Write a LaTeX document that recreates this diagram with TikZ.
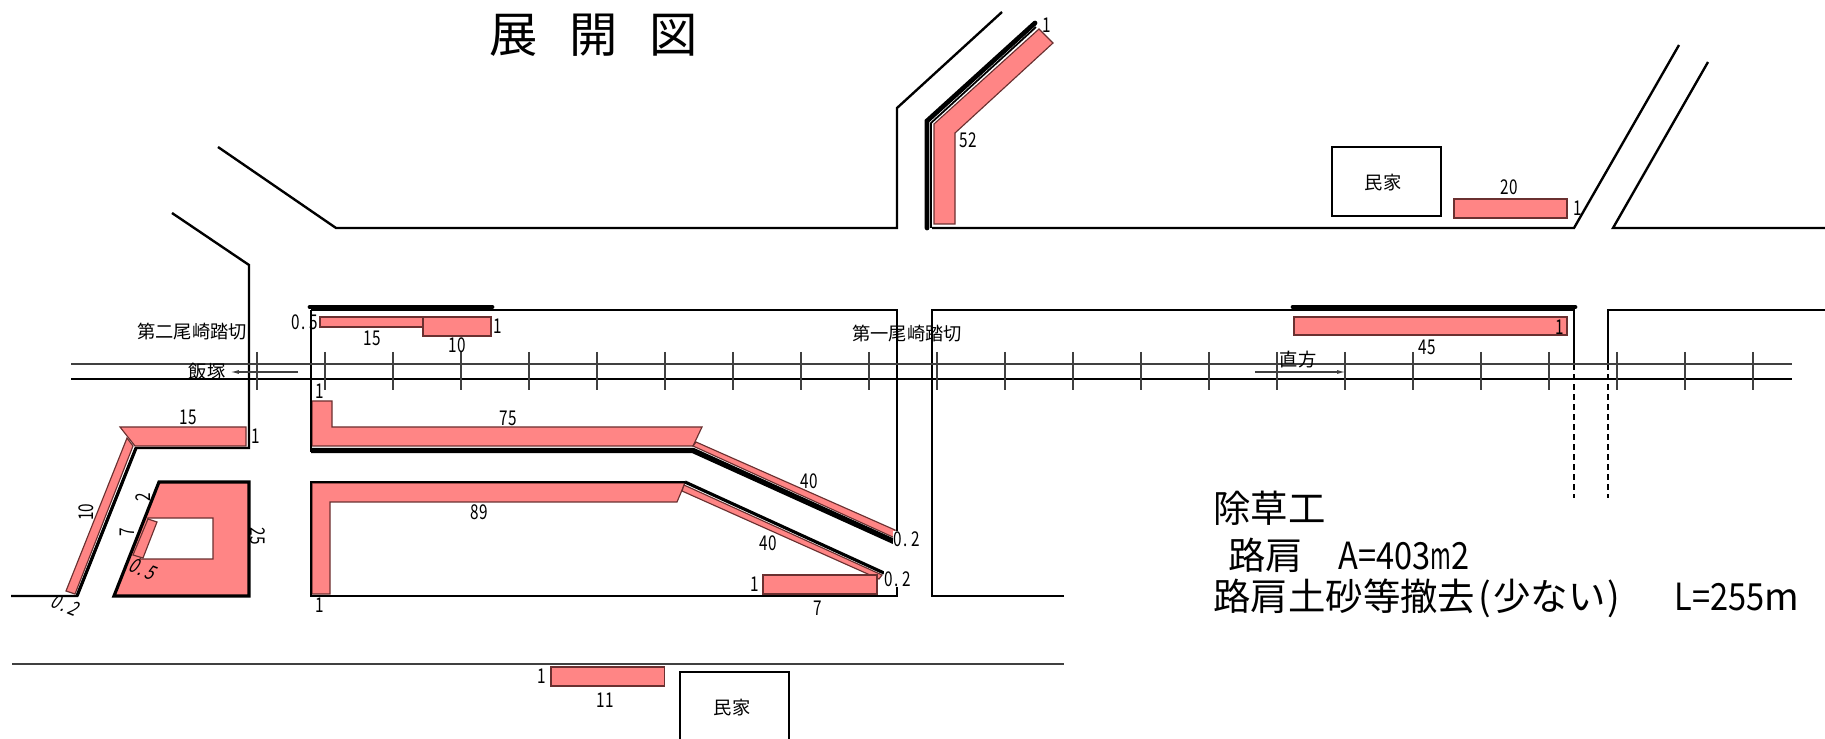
\documentclass[tikz,border=0pt]{standalone}
\usepackage{fontspec}
\usepackage{graphicx}
\usetikzlibrary{arrows.meta}
\setmainfont{Noto Sans CJK JP}
\newfontfamily\slfont[FakeSlant=0.3]{Noto Sans CJK JP}
\newcommand\nn[1]{\scalebox{.75}[1]{#1}}
\newcommand\dec[1]{\scalebox{.75}[1]{0\kern1pt.\kern3pt#1}}
\definecolor{pinkfill}{HTML}{FF8585}
\definecolor{pinkedge}{HTML}{6A3030}
\tikzset{
  rd/.style={line width=1.35pt,line join=miter},
  hv/.style={line width=2.7pt,line cap=round,line join=miter},
  thn/.style={line width=.75pt,black!75},
  dsh/.style={line width=1.2pt,dash pattern=on 3.4pt off 2.3pt},
  pk/.style={fill=pinkfill,draw=pinkedge,line width=.65pt},
  num/.style={inner sep=0pt,font=\fontsize{11.6}{12}\selectfont},
  jp/.style={inner sep=0pt,font=\fontsize{10.4}{12}\selectfont},
  big/.style={inner sep=0pt,anchor=west,font=\fontsize{21.3}{24}\selectfont},
  hal/.style={fill=white,inner sep=.4pt},
}
\begin{document}
\begin{tikzpicture}[x=0.02cm,y=-0.02cm]
\useasboundingbox (0,0) rectangle (1825,739);
% title
\node[inner sep=0pt,font=\fontsize{27.5}{30}\selectfont] (title) at (593.5,35) {展\hspace{18pt}開\hspace{18pt}図};
% roads
\draw[rd] (218,147) -- (336,228) -- (897,228) -- (897,108) -- (1002,12);
\draw[rd] (172,213) -- (249,265) -- (249,448) -- (136,448) -- (77,596) -- (11,596);
\draw[rd] (932,228) -- (1574,228) -- (1679,45);
\draw[rd] (1825,228) -- (1613,228) -- (1708,62);
% buildings
\draw[rd] (1332,147) rectangle (1441,216);
\node[jp] (house1) at (1383,183) {民家};
\draw[rd] (680,739) -- (680,672) -- (789,672) -- (789,739);
\node[jp] (house2) at (732,708) {民家};
\draw[thn] (12,664) -- (1064,664);
% pink areas
\fill[pk] (934,224) -- (934,124) -- (1039,29) -- (1053,43) -- (955,133) -- (955,224) -- cycle;
\fill[pk] (1454,199) rectangle (1567,218);
\fill[pk] (1294,317) rectangle (1567,335);
\fill[pk] (320,317) rectangle (423,327);
\fill[pk] (423,317) rectangle (491,336);
\fill[pk] (312,401) -- (332,401) -- (332,427) -- (702,427) -- (693,446) -- (312,446) -- cycle;
\fill[pk] (696,442) -- (895,530) -- (895,538) -- (693,446) -- cycle;
\fill[pk] (312,483) -- (685,483) -- (677,502) -- (330,502) -- (330,594) -- (312,594) -- cycle;
\fill[pk] (684,485) -- (882,575) -- (879,579) -- (682,491) -- cycle;
\fill[pk] (763,575) rectangle (877,594);
\fill[pk] (120,427) -- (246,427) -- (246,446) -- (135,446) -- cycle;
\fill[pk] (127,438) -- (133,446) -- (75,594) -- (66,591) -- cycle;
\fill[pk,even odd rule] (159,482) -- (249,482) -- (249,596) -- (114,596) -- cycle
  (148,518) -- (213,518) -- (213,559) -- (140,559) -- cycle;
\fill[pk] (148,519) -- (157,522) -- (143,558) -- (133,555) -- cycle;
% heavy lines
\draw[hv] (927,228) -- (927,121) -- (1035,23);
\draw[line width=1pt] (931,228) -- (931,123) -- (1036,27);
\draw[hv] (310,307) -- (492,307);
\draw[hv] (1293,307) -- (1575,307);
\draw[line width=3.1pt] (311,450.5) -- (693,450.5) -- (895,542);
\draw[rd] (311,310) -- (311,452);
\draw[rd] (311,310) -- (897,310) -- (897,537);
\draw[rd] (897,582) -- (897,596) -- (311,596) -- (311,482) -- (685,482);
\draw[line width=1.8pt] (685,482) -- (884,573);
\draw[line width=1.8pt] (114,596) -- (159,482) -- (249,482) -- (249,596) -- cycle;
\draw[line width=1.8pt] (136,448) -- (77,596);
\draw[rd] (1064,596) -- (932,596) -- (932,310) -- (1574,310) -- (1574,364);
\draw[rd] (1825,310) -- (1608,310) -- (1608,364);
\draw[dsh] (1574,364) -- (1574,498);
\draw[dsh] (1608,364) -- (1608,498);
% railway
\draw[thn] (71,364) -- (1792,364);
\draw[line width=.6pt] (71,379) -- (1792,379);
\foreach \k in {0,...,22}{
  \pgfmathsetmacro{\xt}{257+68*\k}
  \draw[thn] (\xt,352) -- (\xt,390);
}
% arrows
\coordinate (a1s) at (298,372); \coordinate (a1e) at (230,372);
\coordinate (a2s) at (1255,372); \coordinate (a2e) at (1346,372);
\draw[thn,-{Latex[length=5pt,width=2.2pt]}] (a1s) -- (a1e);
\draw[thn,-{Latex[length=5pt,width=2.2pt]}] (a2s) -- (a2e);
% crossing labels
\node[jp] (cross2) at (192,332) {第二尾崎踏切};
\node[jp] (cross1) at (907,334) {第一尾崎踏切};
\node[jp] (iizuka) at (207,372) {飯塚};
\node[jp] (nogata) at (1298,360) {直方};
% numbers
\node[num] (n1) at (1047,25) {\nn{1}};
\node[num] (n52) at (968,140) {\nn{52}};
\node[num] (n20) at (1509,187) {\nn{20}};
\node[num] (n1b) at (1577.5,208) {\nn{1}};
\node[num] (n45) at (1427,347) {\nn{45}};
\node[num] (n1c) at (1560,327) {\nn{1}};
\node[num] (n05) at (305,322) {\dec{5}};
\node[num] (n15a) at (372,338) {\nn{15}};
\node[num] (n10a) at (457,345) {\nn{10}};
\node[num] (n1d) at (498,326) {\nn{1}};
\node[num] (n1e) at (320,391) {\nn{1}};
\node[num] (n75) at (508,418) {\nn{75}};
\node[num] (n40a) at (809,481) {\nn{40}};
\node[num] (n89) at (479,512) {\nn{89}};
\node[num] (n40b) at (768,543) {\nn{40}};
\node[num,hal] (n02a) at (907,539) {\dec{2}};
\node[num,hal] (n02b) at (898,579) {\dec{2}};
\node[num] (n1f) at (755,584) {\nn{1}};
\node[num] (n7a) at (818,608) {\nn{7}};
\node[num] (n1g) at (320,605) {\nn{1}};
\node[num] (n15b) at (188,417) {\nn{15}};
\node[num] (n1h) at (256,436) {\nn{1}};
\node[num,rotate=90] (n10b) at (86,512) {\nn{10}};
\node[num,rotate=90] (n2) at (143,497) {\nn{2}};
\node[num,rotate=90] (n7b) at (127,532) {\nn{7}};
\node[num,rotate=-90] (n25) at (258,536) {\nn{25}};
\node[num,rotate=-22,font=\fontsize{11.6}{12}\slfont] (n02c) at (65,605) {\dec{2}};
\node[num,rotate=-22,font=\fontsize{11.6}{12}\slfont] (n05b) at (142,569) {\dec{5}};
\node[num] (n1i) at (542,676) {\nn{1}};
\fill[pk] (551,667) rectangle (664.5,686);
\node[num] (n11) at (605,700) {\nn{11}};
% work summary
\node[big] (t1) at (1213,508) {除草工};
\node[big] (t2) at (1228,555) {路肩\hspace{20pt}\scalebox{.87}[1]{A=403}\scalebox{.6}[1]{m}\scalebox{.87}[1]{2}};
\node[big] (t3) at (1213,598) {路肩土砂等撤去\kern2pt(\kern1pt少ない\kern1pt)\kern1pt\hspace{30pt}\scalebox{.87}[1]{L=255}m};
\end{tikzpicture}
\end{document}
